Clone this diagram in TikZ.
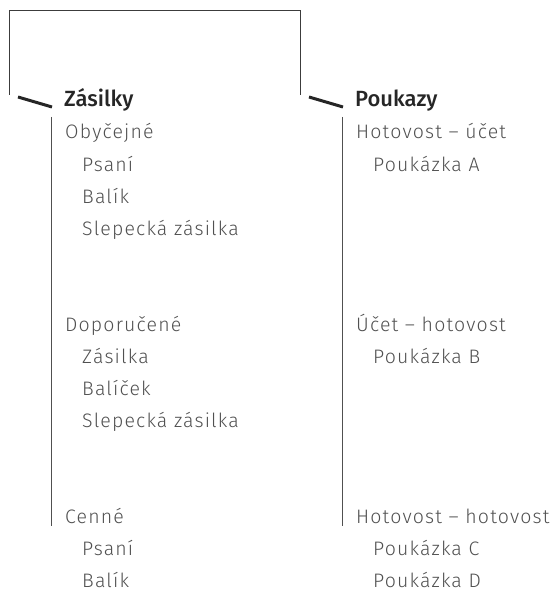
\documentclass[tikz,border=0pt]{standalone}
\usepackage{fontspec}
\setmainfont{Fira Sans Light}[BoldFont={Fira Sans Medium}]
\newfontfamily\itemfont{Fira Sans Light}[LetterSpace=6]
\usetikzlibrary{positioning}

\definecolor{hdcol}{HTML}{262626}
\definecolor{itcol}{HTML}{505050}
\definecolor{lncol}{HTML}{3C3C3C}

\begin{document}
\begin{tikzpicture}[x=1pt,y=-1pt,
  head/.style={anchor=base west, inner sep=0pt, text=hdcol, font=\fontsize{22}{26}\selectfont\bfseries},
  item/.style={anchor=base west, inner sep=0pt, text depth=0pt, text=itcol, font=\itemfont\fontsize{19.5}{23}\selectfont},
  frame/.style={draw=lncol, line width=1pt},
  rule/.style={draw=itcol, line width=1pt},
  slash/.style={draw=hdcol, line width=3pt}]

\useasboundingbox (0,0) rectangle (554,591);

\coordinate (bl) at (9,95);
\coordinate (tl) at (9,11);
\coordinate (tr) at (300,11);
\coordinate (br) at (300,95);
\draw [frame] (bl) -- (tl) -- (tr) -- (br);

\coordinate (s1a) at (18,97);
\coordinate (s1b) at (52,107);
\coordinate (s2a) at (309,97);
\coordinate (s2b) at (343,107);
\draw [slash] (s1a) -- (s1b);
\draw [slash] (s2a) -- (s2b);

\node (zas) at (64,106.5) [head]{Zásilky};
\node (pou) at (355,106.5) [head]{Poukazy};

\node (obyc) at (65,139) [item]{Obyčejné};
\node (psani1) at (82,171.1) [item]{Psaní};
\node (balik1) at (82,203.2) [item]{Balík};
\node (slep1) at (82,235.3) [item]{Slepecká zásilka};

\node (dopo) at (65,331.3) [item]{Doporučené};
\node (zasil) at (82,363.4) [item]{Zásilka};
\node (balicek) at (82,395.5) [item]{Balíček};
\node (slep2) at (82,427.6) [item]{Slepecká zásilka};

\node (cenne) at (65,523.6) [item]{Cenné};
\node (psani2) at (82,555.7) [item]{Psaní};
\node (balik2) at (82,587) [item]{Balík};

\node (hu) at (356,139) [item]{Hotovost – účet};
\node (pa) at (373,171.1) [item]{Poukázka A};

\node (uh) at (356,331.3) [item]{Účet – hotovost};
\node (pb) at (373,363.4) [item]{Poukázka B};

\node (hh) at (356,523.6) [item]{Hotovost – hotovost};
\node (pc) at (373,555.7) [item]{Poukázka C};
\node (pd) at (373,587) [item]{Poukázka D};

\coordinate (lt) at (51,117);
\coordinate (lb) at (51,526);
\coordinate (rt) at (342,117);
\coordinate (rb) at (342,526);
\draw [rule] (lt) -- (lb);
\draw [rule] (rt) -- (rb);

\end{tikzpicture}
\end{document}
